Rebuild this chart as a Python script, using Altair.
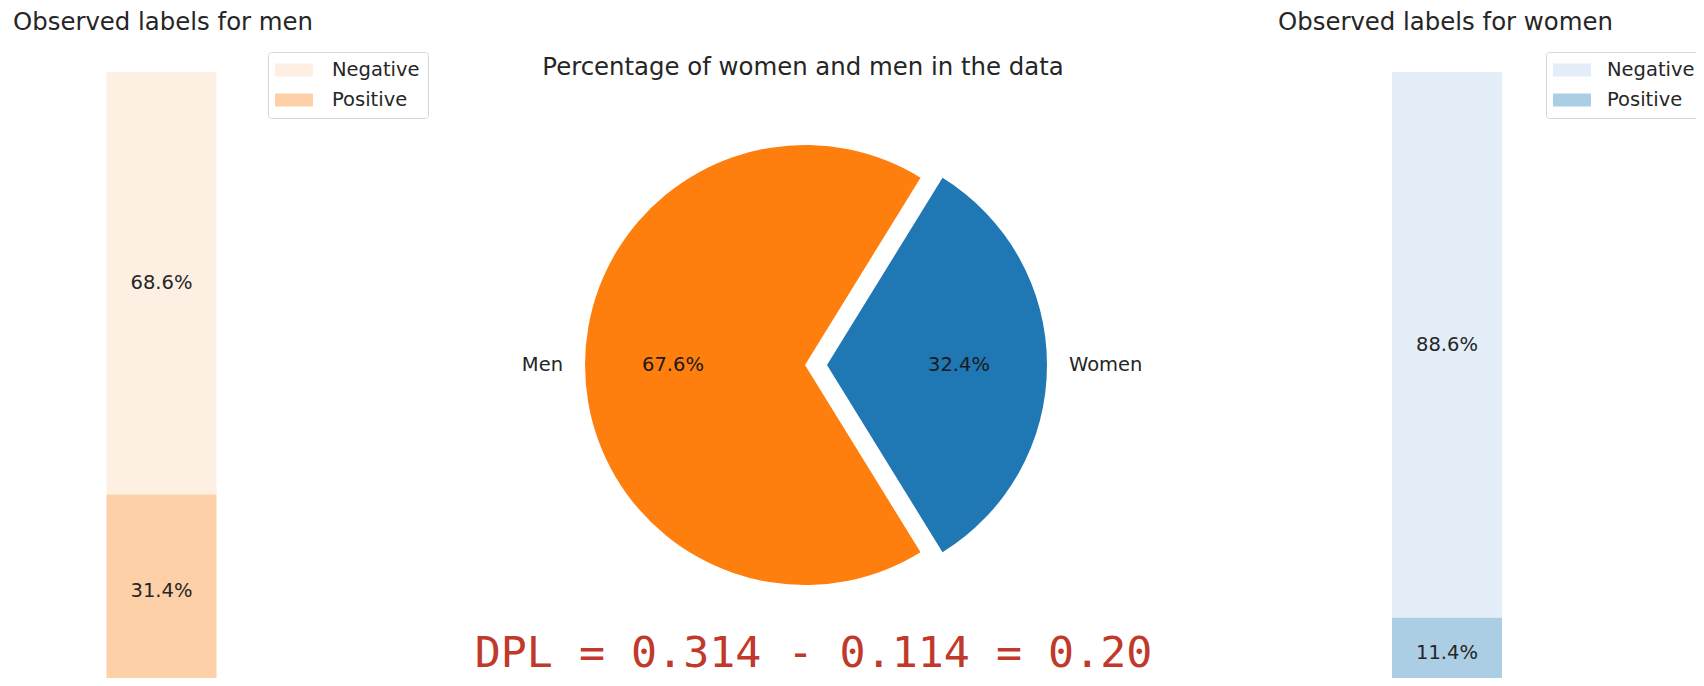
import math
import altair as alt
import pandas as pd

# ---------------- data ----------------
label_classes = ["Negative", "Positive"]
men_label_pct = [68.6, 31.4]
women_label_pct = [88.6, 11.4]

genders = ["Women", "Men"]
gender_pct = [32.4, 67.6]

men_colors = ["#FDF0E3", "#FDD0A7"]
women_colors = ["#E3EEF8", "#ABCEE4"]
pie_colors = ["#1F77B4", "#FF7F0E"]

title_men = "Observed labels for men"
title_women = "Observed labels for women"
title_pie = "Percentage of women and men in the data"
dpl_text = "DPL = 0.314 - 0.114 = 0.20"

# ---------------- layout / style ----------------
W, H = 1688, 670
FONT = "DejaVu Sans"
TXT = "#262626"
LBL = 19.5
TITLE = 24.4
BAR_Y_RANGE = [680, 64]
PIE_CX, PIE_CY, PIE_R = 797, 357, 220
EXPLODE = 22


def bar_panel(pcts, colors, x_range, legend_x, label_offset):
    df = pd.DataFrame({
        "label": label_classes,
        "pct": pcts,
        "stack_order": [1, 0],
        "panel": ["bar", "bar"],
    })
    base = alt.Chart(df).transform_stack(
        stack="pct", groupby=["panel"], as_=["y0", "y1"],
        sort=[alt.SortField(field="stack_order", order="ascending")],
    ).transform_calculate(
        mid="(datum.y0 + datum.y1) / 2",
        txt="format(datum.pct, '.1f') + '%'",
    )
    x = alt.X("panel:N", axis=None,
              scale=alt.Scale(range=x_range, paddingInner=0, paddingOuter=0))
    yscale = alt.Scale(domain=[0, 100], range=BAR_Y_RANGE)
    legend = alt.Legend(
        title=None, orient="none", legendX=legend_x, legendY=44,
        direction="vertical",
        labelFont=FONT, labelFontSize=LBL, labelColor=TXT,
        labelOffset=label_offset,
        symbolType="M-1.1,-0.65L2.7,-0.65L2.7,0.65L-1.1,0.65Z",
        symbolSize=400, symbolStrokeWidth=0, symbolOpacity=1,
        rowPadding=10, padding=8,
        strokeColor="#D6D6D6", fillColor="white", cornerRadius=3,
    )
    bars = base.mark_bar(clip=True).encode(
        x=x,
        y=alt.Y("y0:Q", axis=None, scale=yscale),
        y2="y1:Q",
        color=alt.Color("label:N",
                        scale=alt.Scale(domain=label_classes, range=colors),
                        legend=legend),
    )
    texts = base.mark_text(font=FONT, fontSize=LBL, color=TXT,
                           baseline="middle", align="center").encode(
        x=x,
        y=alt.Y("mid:Q", axis=None, scale=yscale),
        text="txt:N",
    )
    return alt.layer(bars, texts)


# ---------------- pie ----------------
pie_df = pd.DataFrame({"gender": genders, "pct": gender_pct, "order": [0, 1]})
start_angle = math.pi / 2 - math.pi * gender_pct[0] / 100.0
theta_scale = alt.Scale(domain=[0, 100], range=[start_angle, start_angle + 2 * math.pi])
color_scale = alt.Scale(domain=genders, range=pie_colors)

pie_base = alt.Chart(pie_df).transform_window(
    end="sum(pct)", sort=[alt.SortField("order")], frame=[None, 0]
).transform_calculate(
    start="datum.end - datum.pct",
    mid="datum.end - datum.pct / 2",
    txt="format(datum.pct, '.1f') + '%'",
)


def pie_slice(gender, dx, name_align):
    b = pie_base.transform_filter(alt.datum.gender == gender)
    arc = b.mark_arc(outerRadius=PIE_R, xOffset=dx).encode(
        theta=alt.Theta("start:Q", stack=None, scale=theta_scale),
        theta2="end:Q",
        color=alt.Color("gender:N", scale=color_scale, legend=None),
        x=alt.value(PIE_CX), y=alt.value(PIE_CY),
    )
    pct = b.mark_text(radius=PIE_R * 0.6, xOffset=dx, font=FONT, fontSize=LBL,
                      color="#1A1A1A", baseline="middle", align="center").encode(
        theta=alt.Theta("mid:Q", stack=None, scale=theta_scale),
        text="txt:N",
        x=alt.value(PIE_CX), y=alt.value(PIE_CY),
    )
    name = b.mark_text(radius=PIE_R * 1.1, xOffset=dx, font=FONT, fontSize=LBL,
                       color=TXT, baseline="middle", align=name_align).encode(
        theta=alt.Theta("mid:Q", stack=None, scale=theta_scale),
        text="gender:N",
        x=alt.value(PIE_CX), y=alt.value(PIE_CY),
    )
    return alt.layer(arc, pct, name)


pie = alt.layer(pie_slice("Men", 0, "right"), pie_slice("Women", EXPLODE, "left"))


def free_text(txt, x, y, size, align="left", color=TXT, font=FONT):
    return alt.Chart(pd.DataFrame({"t": [txt]})).mark_text(
        font=font, fontSize=size, color=color, align=align, baseline="alphabetic"
    ).encode(text="t:N", x=alt.value(x), y=alt.value(y))


men_panel = bar_panel(men_label_pct, men_colors, [98.5, 208.5], 260, 36)
women_panel = bar_panel(women_label_pct, women_colors, [1384, 1494], 1538, 33)

chart = alt.layer(
    men_panel,
    women_panel,
    pie,
    free_text(title_men, 5, 21.5, TITLE),
    free_text(title_women, 1270, 21.5, TITLE),
    free_text(title_pie, 795, 67, TITLE, align="center"),
    free_text(dpl_text, 805.5, 659, 43.3, align="center", color="#C0392B",
              font="DejaVu Sans Mono"),
).resolve_scale(
    x="independent", y="independent", color="independent", theta="independent"
).properties(
    width=W, height=H, padding=0,
    autosize=alt.AutoSizeParams(type="none"),
    background="white",
).configure_view(stroke=None)

chart.save("out.html", embed_options={"renderer": "svg", "actions": False})
